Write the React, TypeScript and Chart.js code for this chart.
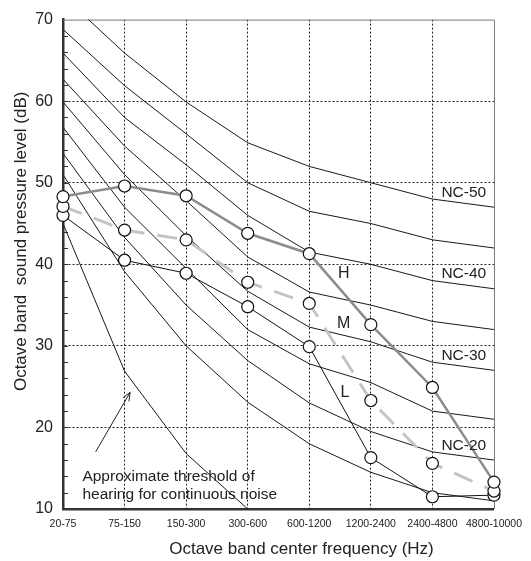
import { useEffect, useRef } from "react";
import Chart from "chart.js/auto";

// octave bands on the x axis
const bands = [
  "20-75",
  "75-150",
  "150-300",
  "300-600",
  "600-1200",
  "1200-2400",
  "2400-4800",
  "4800-10000",
];

// NC curves (dB)
const nc50 = [72.9, 65.9, 59.9, 54.9, 52.0, 50.0, 48, 47];
const nc45 = [68.8, 61.9, 56.0, 50.0, 46.5, 45.0, 43, 42];
const nc40 = [65.9, 58.0, 52.2, 46.0, 41.5, 40.0, 38, 37];
const nc35 = [62.7, 54.5, 47.8, 40.9, 36.6, 35.0, 33, 32];
const nc30 = [59.9, 51.0, 43.5, 36.7, 32.3, 30.5, 28, 27];
const nc25 = [56.8, 47.0, 39.5, 32.0, 27.8, 25.5, 22, 21];
const nc20 = [53.6, 43.3, 35.0, 28.2, 23.0, 19.5, 17, 16];
const nc15 = [51.0, 39.1, 30.0, 23.1, 18.0, 14.5, 12, 11];
const threshold = [45.0, 26.9, 16.8, 10, null, null, null, null];

// measured spectra
const highNoise = [48.3, 49.6, 48.4, 43.8, 41.3, 32.6, 24.9, 13.3];
const midNoise = [47.1, 44.2, 43.0, 37.8, 35.2, 23.3, 15.6, 12.2];
const lowNoise = [46.0, 40.5, 38.9, 34.8, 29.9, 16.3, 11.5, 11.7];

const yMin = 10;
const yMax = 70;

const FONT = "'Liberation Sans', Arial, Helvetica, sans-serif";
const INK = "#222";

// curves that carry a label at the right end
const ncLabels = [
  { text: "NC-50", curve: nc50 },
  { text: "NC-40", curve: nc40 },
  { text: "NC-30", curve: nc30 },
  { text: "NC-20", curve: nc20 },
];

// letter labels next to the spectra (band index, dB)
const seriesLabels = [
  { text: "H", band: 4.56, level: 38.9 },
  { text: "M", band: 4.56, level: 32.7 },
  { text: "L", band: 4.58, level: 24.3 },
];

const noteLines = ["Approximate threshold of", "hearing for continuous noise"];

const frame = {
  id: "frame",
  beforeDatasetsDraw(chart: Chart) {
    const { ctx, chartArea: a, scales } = chart;
    const y = scales.y;
    ctx.save();
    ctx.strokeStyle = "#777";
    ctx.lineWidth = 1;
    ctx.beginPath();
    ctx.moveTo(a.left, a.top + 0.5);
    ctx.lineTo(a.right + 0.5, a.top + 0.5);
    ctx.lineTo(a.right + 0.5, a.bottom);
    ctx.stroke();

    ctx.strokeStyle = "#333";
    ctx.beginPath();
    for (let v = yMin + 2; v < yMax; v += 2) {
      const py = Math.round(y.getPixelForValue(v)) + 0.5;
      ctx.moveTo(a.left, py);
      ctx.lineTo(a.left + 5, py);
    }
    ctx.stroke();
    ctx.restore();
  },
  afterDraw(chart: Chart) {
    const { ctx, chartArea: a, scales } = chart;
    const x = scales.x;
    const y = scales.y;
    ctx.save();
    ctx.fillStyle = INK;

    // NC labels
    ctx.font = `15.5px ${FONT}`;
    ctx.textAlign = "left";
    ctx.textBaseline = "middle";
    ncLabels.forEach((l) => {
      const last = l.curve[l.curve.length - 1];
      ctx.fillText(l.text, x.getPixelForValue(6) + 9, y.getPixelForValue(last + 1.8));
    });

    ctx.font = `16px ${FONT}`;
    ctx.textAlign = "center";
    seriesLabels.forEach((l) => {
      ctx.fillText(l.text, x.getPixelForValue(l.band), y.getPixelForValue(l.level));
    });

    // threshold note + arrow
    ctx.font = `15.5px ${FONT}`;
    ctx.textAlign = "left";
    noteLines.forEach((t, i) => {
      ctx.fillText(t, x.getPixelForValue(0.315), y.getPixelForValue(14.0 - i * 2.3));
    });
    const x0 = x.getPixelForValue(0.53);
    const y0 = y.getPixelForValue(17.0);
    const x1 = x.getPixelForValue(1.09);
    const y1 = y.getPixelForValue(24.3);
    const ang = Math.atan2(y1 - y0, x1 - x0);
    ctx.strokeStyle = INK;
    ctx.lineWidth = 1;
    ctx.beginPath();
    ctx.moveTo(x0, y0);
    ctx.lineTo(x1, y1);
    ctx.moveTo(x1 - 9 * Math.cos(ang - 0.4), y1 - 9 * Math.sin(ang - 0.4));
    ctx.lineTo(x1, y1);
    ctx.lineTo(x1 - 9 * Math.cos(ang + 0.4), y1 - 9 * Math.sin(ang + 0.4));
    ctx.stroke();

    // axis titles
    ctx.font = `17px ${FONT}`;
    ctx.textAlign = "center";
    ctx.textBaseline = "alphabetic";
    ctx.fillText(
      "Octave band center frequency (Hz)",
      (a.left + a.right) / 2 + 23,
      a.bottom + 45
    );
    ctx.translate(a.left - 37, (a.top + a.bottom) / 2 - 23);
    ctx.rotate(-Math.PI / 2);
    ctx.fillText("Octave band  sound pressure level (dB)", 0, 0);
    ctx.restore();
  },
};

const App = () => {
  const chartRef = useRef<HTMLCanvasElement>(null);

  useEffect(() => {
    const ctx = chartRef.current?.getContext("2d");
    if (!ctx) return;

    const ncLine = (data: (number | null)[]) => ({
      data,
      borderColor: "#1a1a1a",
      borderWidth: 1,
      pointRadius: 0,
      tension: 0,
    });
    const marker = {
      pointRadius: 6,
      pointBorderWidth: 1.2,
      pointBorderColor: "#111",
      pointBackgroundColor: "#fff",
      tension: 0,
      clip: false as const,
    };

    const chart = new Chart(ctx, {
      type: "line",
      data: {
        labels: bands,
        datasets: [
          { label: "H", data: highNoise, borderColor: "#8c8c8c", borderWidth: 2.5, ...marker },
          {
            label: "M",
            data: midNoise,
            borderColor: "#c4c4c4",
            borderWidth: 3,
            borderDash: [20, 13],
            ...marker,
          },
          { label: "L", data: lowNoise, borderColor: "#111", borderWidth: 1, ...marker },
          ncLine(nc50),
          ncLine(nc45),
          ncLine(nc40),
          ncLine(nc35),
          ncLine(nc30),
          ncLine(nc25),
          ncLine(nc20),
          ncLine(nc15),
          ncLine(threshold),
        ],
      },
      options: {
        animation: false,
        responsive: true,
        maintainAspectRatio: false,
        layout: { padding: { top: 16, right: 31, left: 0, bottom: 0 } },
        plugins: {
          legend: { display: false },
          tooltip: { enabled: false },
        },
        scales: {
          x: {
            offset: false,
            grid: {
              offset: false,
              drawTicks: false,
              color: (c) => (c.index === 0 || c.index === bands.length - 1 ? "transparent" : "#222"),
            },
            border: { display: true, color: "#333", width: 2.5, dash: [2, 2] },
            ticks: {
              color: INK,
              font: { family: FONT, size: 10.5 },
              padding: 9,
              maxRotation: 0,
              autoSkip: false,
            },
            afterFit: (s) => {
              s.height = 52;
            },
          },
          y: {
            min: yMin,
            max: yMax,
            grid: {
              drawTicks: false,
              color: (c) => (c.tick.value === yMin || c.tick.value === yMax ? "transparent" : "#222"),
            },
            border: { display: true, color: "#333", width: 2.5, dash: [2, 2] },
            ticks: {
              stepSize: 10,
              color: INK,
              font: { family: FONT, size: 16 },
              padding: 10,
            },
            afterFit: (s) => {
              s.width = 63;
            },
          },
        },
      },
      plugins: [frame],
    });

    return () => {
      chart.destroy();
    };
  }, []);

  return (
    <div style={{ position: "fixed", left: 0, top: 0, width: 531, height: 561, background: "#fff" }}>
      <canvas ref={chartRef} />
    </div>
  );
};

export default App;
